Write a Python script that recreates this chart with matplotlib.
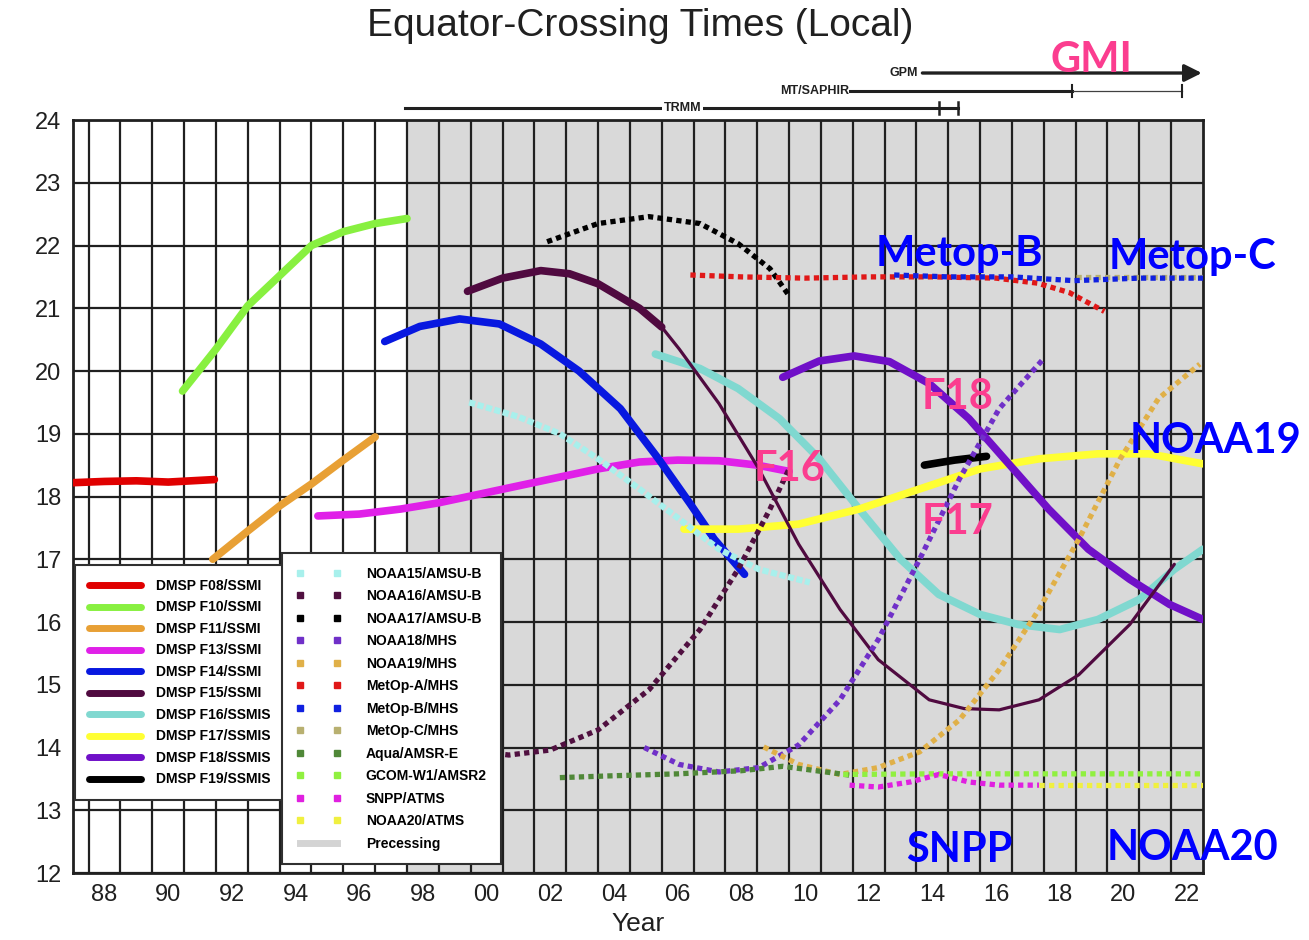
import numpy as np
import matplotlib
matplotlib.use("Agg")
import matplotlib.pyplot as plt
from matplotlib.lines import Line2D
from matplotlib.transforms import blended_transform_factory

# ---- DMSP imagers (solid lines) : decimal year, local hour ----
f08_x = [1987.0, 1988.0, 1989.0, 1990.0, 1991.45]
f08_y = [18.22, 18.24, 18.25, 18.23, 18.27]
f10_x = [1990.45, 1991.5, 1992.5, 1993.5, 1994.5, 1995.5, 1996.5, 1997.5]
f10_y = [19.68, 20.35, 21.04, 21.52, 22.0, 22.22, 22.35, 22.43]
f11_x = [1991.4, 1992.5, 1993.5, 1994.5, 1995.5, 1996.5]
f11_y = [17.0, 17.45, 17.85, 18.2, 18.58, 18.95]
f13_x = [1994.7, 1996.0, 1997.3, 1998.5, 1999.8, 2001.0, 2002.3, 2003.5, 2004.8, 2006.0, 2007.3, 2008.5, 2009.5]
f13_y = [17.69, 17.72, 17.8, 17.9, 18.04, 18.17, 18.31, 18.44, 18.55, 18.58, 18.57, 18.5, 18.4]
f14_x = [1996.8, 1997.9, 1999.15, 2000.4, 2001.7, 2002.9, 2004.2, 2005.4, 2006.4, 2007.15, 2008.1]
f14_y = [20.47, 20.71, 20.83, 20.75, 20.43, 20.0, 19.4, 18.6, 17.88, 17.32, 16.76]
f15_x = [1999.4, 2000.5, 2001.7, 2002.6, 2003.5, 2004.8, 2005.5, 2006.05, 2007.3, 2008.55, 2009.8, 2011.1,
         2012.3, 2013.9, 2015.0, 2016.1, 2017.35, 2018.6, 2020.2, 2021.6]
f15_y = [21.27, 21.48, 21.6, 21.55, 21.39, 21.0, 20.7, 20.35, 19.48, 18.44, 17.24, 16.2,
         15.4, 14.76, 14.62, 14.6, 14.76, 15.16, 15.96, 16.92]
f16_x = [2005.3, 2006.7, 2007.9, 2009.2, 2010.45, 2011.7, 2013.0, 2014.2, 2015.5, 2016.7, 2018.0, 2019.2,
         2020.5, 2021.6, 2022.5]
f16_y = [20.27, 20.04, 19.72, 19.24, 18.6, 17.8, 17.0, 16.44, 16.12, 15.96, 15.88, 16.04,
         16.36, 16.84, 17.16]
f17_x = [2006.2, 2007.9, 2009.8, 2011.7, 2013.6, 2015.5, 2017.35, 2019.2, 2020.8, 2022.5]
f17_y = [17.48, 17.48, 17.56, 17.8, 18.12, 18.44, 18.6, 18.68, 18.68, 18.52]
f18_x = [2009.3, 2010.45, 2011.55, 2012.65, 2013.9, 2015.15, 2016.4, 2017.65, 2018.9, 2020.2, 2021.45, 2022.5]
f18_y = [19.9, 20.16, 20.24, 20.15, 19.8, 19.24, 18.52, 17.8, 17.16, 16.68, 16.28, 16.04]
f19_x = [2013.75, 2014.7, 2015.7]
f19_y = [18.5, 18.58, 18.64]

# ---- sounders / other imagers (dotted lines) ----
n15_x = [1999.45, 2001.0, 2002.3, 2003.5, 2004.8, 2006.05, 2007.3, 2008.55, 2010.15]
n15_y = [19.5, 19.27, 19.0, 18.6, 18.12, 17.64, 17.16, 16.84, 16.63]
n16_x = [1999.4, 2000.7, 2002.0, 2003.5, 2005.1, 2006.7, 2007.9, 2008.9, 2009.5]
n16_y = [13.96, 13.88, 13.96, 14.28, 14.92, 15.88, 16.84, 17.8, 18.44]
n17_x = [2001.9, 2003.5, 2005.1, 2006.7, 2007.9, 2008.9, 2009.5]
n17_y = [22.06, 22.35, 22.46, 22.35, 22.03, 21.63, 21.2]
n18_x = [2004.95, 2006.05, 2007.3, 2008.55, 2009.8, 2011.1, 2012.3, 2013.6, 2014.85, 2016.1, 2017.5]
n18_y = [14.0, 13.73, 13.61, 13.68, 14.04, 14.76, 15.72, 17.0, 18.28, 19.4, 20.2]
n19_x = [2008.7, 2009.8, 2011.1, 2012.3, 2013.6, 2014.85, 2016.1, 2017.35, 2018.6, 2019.9, 2021.1, 2022.4]
n19_y = [14.01, 13.73, 13.57, 13.68, 13.93, 14.44, 15.24, 16.2, 17.32, 18.6, 19.56, 20.11]
ma_x = [2006.4, 2008.0, 2010.0, 2012.0, 2014.0, 2016.0, 2017.3, 2018.3, 2019.4]
ma_y = [21.53, 21.5, 21.48, 21.5, 21.5, 21.48, 21.4, 21.25, 20.95]
mb_x = [2012.8, 2014.5, 2016.5, 2018.45, 2020.5, 2022.5]
mb_y = [21.53, 21.5, 21.5, 21.44, 21.48, 21.48]
mc_x = [2018.5, 2020.5, 2022.5]
mc_y = [21.5, 21.5, 21.5]
aqua_x = [2002.3, 2004.0, 2006.0, 2008.0, 2009.3, 2010.5, 2011.4]
aqua_y = [13.52, 13.55, 13.58, 13.63, 13.7, 13.62, 13.56]
gcom_x = [2011.2, 2014.0, 2017.0, 2020.0, 2022.5]
gcom_y = [13.57, 13.58, 13.58, 13.58, 13.58]
snpp_x = [2011.4, 2012.3, 2013.3, 2014.2, 2015.15, 2016.1, 2017.35]
snpp_y = [13.4, 13.37, 13.45, 13.57, 13.45, 13.4, 13.4]
n20_x = [2017.35, 2019.5, 2022.5]
n20_y = [13.4, 13.4, 13.4]

dmsp_labels = ["DMSP F08/SSMI", "DMSP F10/SSMI", "DMSP F11/SSMI", "DMSP F13/SSMI", "DMSP F14/SSMI",
               "DMSP F15/SSMI", "DMSP F16/SSMIS", "DMSP F17/SSMIS", "DMSP F18/SSMIS", "DMSP F19/SSMIS"]
dmsp_colors = ["#e00000", "#88f040", "#e8a035", "#e020e8", "#0818e0",
               "#500a40", "#80d8d0", "#ffff33", "#7010c8", "#000000"]
other_labels = ["NOAA15/AMSU-B", "NOAA16/AMSU-B", "NOAA17/AMSU-B", "NOAA18/MHS", "NOAA19/MHS",
                "MetOp-A/MHS", "MetOp-B/MHS", "MetOp-C/MHS", "Aqua/AMSR-E", "GCOM-W1/AMSR2",
                "SNPP/ATMS", "NOAA20/ATMS"]
other_colors = ["#a8f0ec", "#501040", "#000000", "#7030c8", "#e0b048",
                "#e01818", "#1020e0", "#b8b070", "#508838", "#90f040",
                "#e020e0", "#f0f040"]

year_ticks = list(range(1988, 2023, 2))
year_labels = [f"{y % 100:02d}" for y in year_ticks]
hour_ticks = list(range(12, 25))

plt.rcParams['font.family'] = ['Liberation Sans', 'DejaVu Sans']

fig = plt.figure(figsize=(13.09, 9.40), dpi=100)
ax = fig.add_axes([72.7 / 1309, 67 / 940, 1130.3 / 1309, 753 / 940])
ax.set_xlim(1987.0, 2022.5)
ax.set_ylim(12, 24)

# shaded period + grid
ax.axvspan(1997.5, 2022.5, color="#d9d9d9", zorder=0, lw=0)
ax.set_xticks(year_ticks)
ax.set_xticklabels(year_labels)
ax.set_xticks(np.arange(1987.5, 2022.0, 1.0), minor=True)
ax.set_yticks(hour_ticks)
ax.grid(True, axis="x", which="minor", color="#202020", lw=1.6)
ax.grid(True, axis="y", which="major", color="#202020", lw=1.6)
ax.set_axisbelow(True)
ax.tick_params(which="both", length=0, labelsize=17, pad=8, labelcolor="#202020")
for sp in ax.spines.values():
    sp.set_linewidth(2)
    sp.set_color("#202020")

# DMSP solid curves
solid = [(f08_x, f08_y), (f10_x, f10_y), (f11_x, f11_y), (f13_x, f13_y), (f14_x, f14_y),
         None, (f16_x, f16_y), (f17_x, f17_y), (f18_x, f18_y), (f19_x, f19_y)]
for s, c in zip(solid, dmsp_colors):
    if s is None:
        continue
    ax.plot(s[0], s[1], color=c, lw=5.5, solid_capstyle="round", zorder=3)
# F15 thick then thin
k = 7
ax.plot(f15_x[:k], f15_y[:k], color=dmsp_colors[5], lw=5.5, solid_capstyle="round", zorder=3)
ax.plot(f15_x[k - 1:], f15_y[k - 1:], color=dmsp_colors[5], lw=2.3, solid_capstyle="round", zorder=3)

# dotted curves
dotted = [(n15_x, n15_y), (n16_x, n16_y), (n17_x, n17_y), (n18_x, n18_y), (n19_x, n19_y),
          (ma_x, ma_y), (mb_x, mb_y), (mc_x, mc_y), (aqua_x, aqua_y), (gcom_x, gcom_y),
          (snpp_x, snpp_y), (n20_x, n20_y)]
order = [7, 0, 1, 2, 3, 4, 5, 6, 8, 9, 10, 11]
for i in order:
    xs, ys = dotted[i]
    if i == 0:
        ax.plot(xs, ys, color=other_colors[i], lw=4.5, ls=(0, (1, 0.4)), dash_capstyle="butt", zorder=3)
    else:
        ax.plot(xs, ys, color=other_colors[i], lw=3.8, ls=(0, (1, 0.8)), dash_capstyle="butt", zorder=3)

# legends
leg_font = {"family": "Liberation Sans", "weight": "bold", "size": 10}
h1 = [Line2D([], [], color=c, lw=5, solid_capstyle="round") for c in dmsp_colors]
leg1 = ax.legend(h1, dmsp_labels, loc="upper left", bbox_to_anchor=(0.002, 0.409), prop=leg_font,
                 handlelength=3.75, handletextpad=1.1, labelspacing=0.54, borderpad=1.0,
                 borderaxespad=0, fancybox=False, framealpha=1, edgecolor="#303030")
leg1.get_frame().set_linewidth(1.5)
leg1.set_zorder(10)
ax.add_artist(leg1)

h2 = [Line2D([], [], ls="none", marker="s", ms=5, color=c) for c in other_colors]
h2.append(Line2D([], [], color="#d4d4d4", lw=5))
leg2 = ax.legend(h2, other_labels + ["Precessing"], loc="upper left", bbox_to_anchor=(0.185, 0.425),
                 prop=leg_font, numpoints=2, handlelength=3.3, handletextpad=1.75, labelspacing=0.61,
                 borderpad=1.0, borderaxespad=0, fancybox=False, framealpha=1, edgecolor="#303030")
leg2.get_frame().set_linewidth(1.5)
leg2.set_zorder(11)

# mission bars above the plot
tr = blended_transform_factory(ax.transData, ax.transAxes)
small = {"family": "Liberation Sans", "weight": "bold", "size": 9, "color": "#202020"}
ax.plot([1997.45, 2014.8], [1.016, 1.016], transform=tr, color="#202020", lw=2.2, clip_on=False)
for xt in [2014.2, 2014.8]:
    ax.plot([xt, xt], [1.008, 1.024], transform=tr, color="#202020", lw=1.8, clip_on=False)
ax.text(2006.15, 1.016, "TRMM", transform=tr, ha="center", va="center", fontdict=small,
        bbox=dict(facecolor="white", edgecolor="none", pad=1))
ax.plot([2011.4, 2018.4], [1.0385, 1.0385], transform=tr, color="#202020", lw=2.2, clip_on=False)
ax.plot([2018.4, 2021.85], [1.0385, 1.0385], transform=tr, color="#404040", lw=0.9, clip_on=False)
for xt in [2018.4, 2021.85]:
    ax.plot([xt, xt], [1.030, 1.047], transform=tr, color="#202020", lw=1.5, clip_on=False)
ax.text(2011.4, 1.0385, "MT/SAPHIR", transform=tr, ha="right", va="center", fontdict=small)
ax.annotate("", xy=(2022.55, 1.0624), xytext=(2013.6, 1.0624), xycoords=tr, textcoords=tr,
            arrowprops=dict(arrowstyle="-|>", color="#202020", lw=2.4, mutation_scale=26))
ax.text(2013.55, 1.0624, "GPM", transform=tr, ha="right", va="center", fontdict=small)

# titles
fig.text(0.489, 0.972, "Equator-Crossing Times (Local)", ha="center", va="center", fontsize=28,
         color="#202020")
ax.set_xlabel("Year", fontsize=19, color="#202020", labelpad=4)

# overlaid satellite names
pink = "#fb3d8f"
blue = "#0000ff"
lab = {"family": ["Lato", "DejaVu Sans"], "weight": "bold", "size": 30}
notes = [("GMI", 2018.99, 24.96, pink, "center"),
         ("Metop-B", 2014.84, 21.87, blue, "center"),
         ("Metop-C", 2022.16, 21.82, blue, "center"),
         ("NOAA19", 2025.6, 18.88, blue, "right"),
         ("F18", 2014.8, 19.59, pink, "center"),
         ("F16", 2009.5, 18.44, pink, "center"),
         ("F17", 2014.8, 17.6, pink, "center"),
         ("SNPP", 2014.84, 12.37, blue, "center"),
         ("NOAA20", 2022.16, 12.4, blue, "center")]
for t, xv, yv, c, ha in notes:
    ax.text(xv, yv, t, color=c, ha=ha, va="center", fontdict=lab, clip_on=False, zorder=12)

fig.savefig("out.png", dpi=100)
